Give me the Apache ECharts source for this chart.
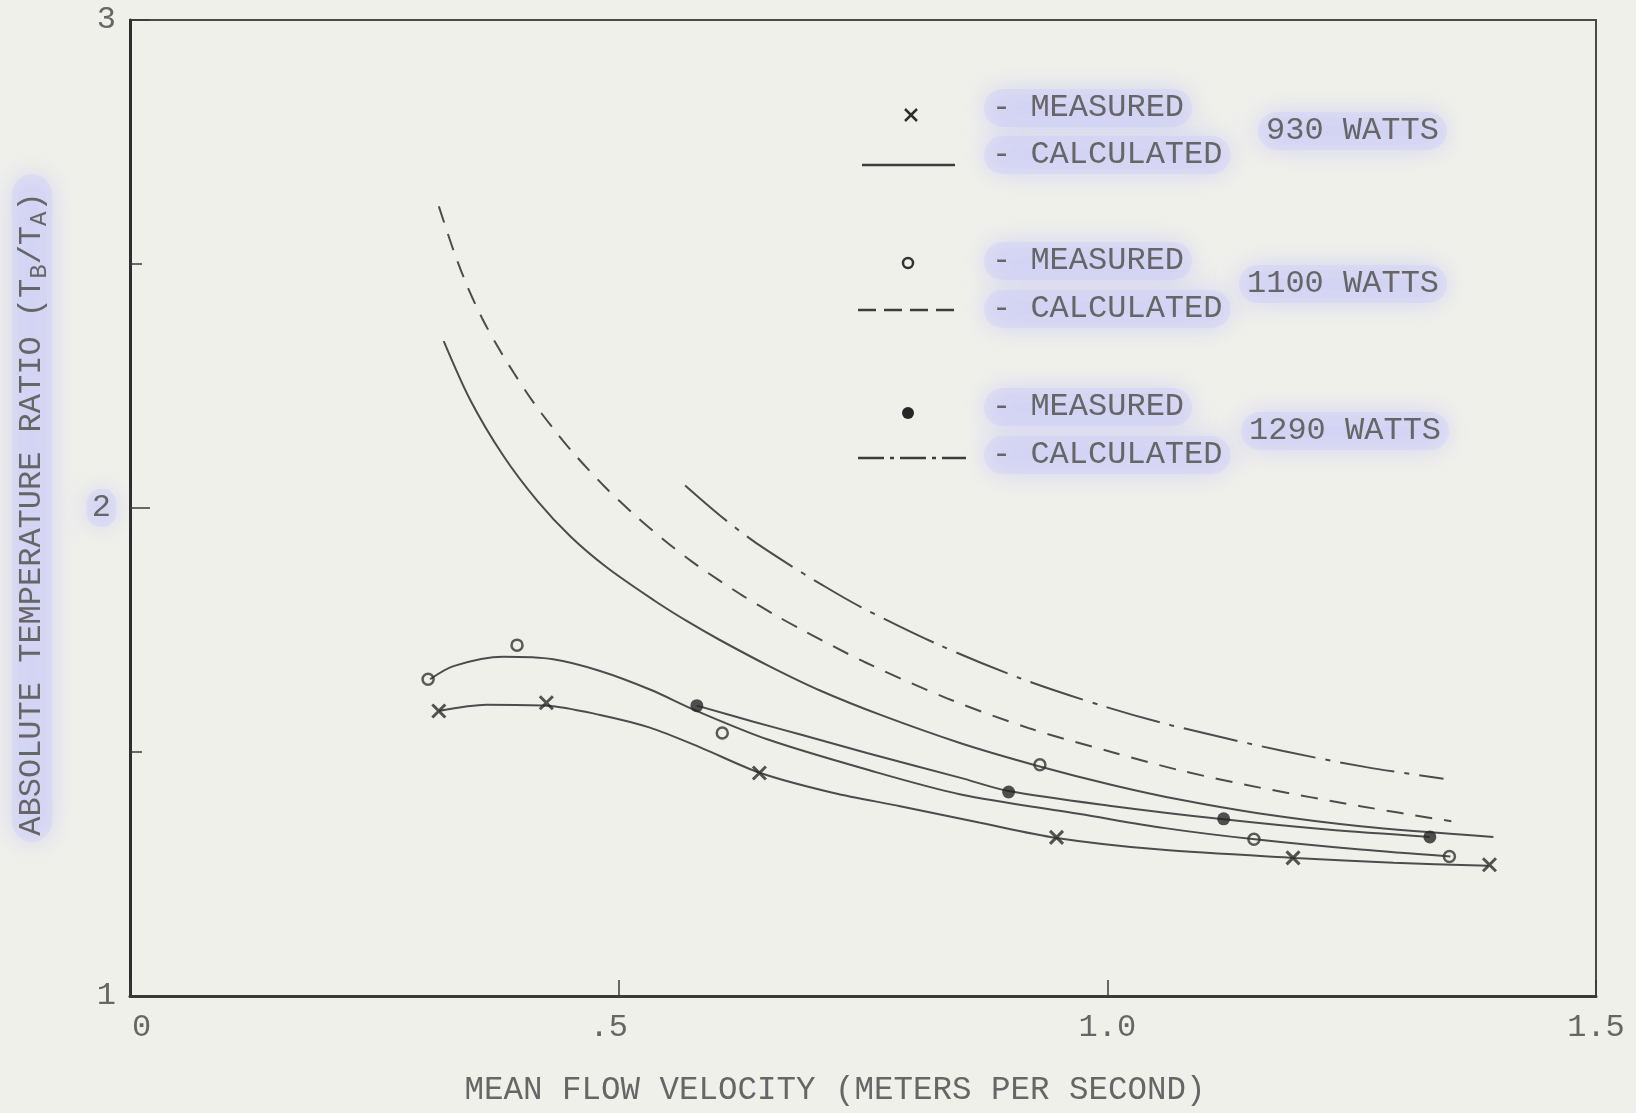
<!DOCTYPE html>
<html>
<head>
<meta charset="utf-8">
<script src="https://cdn.jsdelivr.net/npm/echarts@6/dist/echarts.min.js"></script>
<style>
html,body{margin:0;padding:0;background:#f0f0eb;}
#c{width:1636px;height:1113px;}
</style>
</head>
<body>
<div id="c"></div>
<script>
// ---- tick labels ----
const xTickLabels = {0: '0', 0.5: '.5', 1: '1.0', 1.5: '1.5'};
const yTickLabels = {1: '1', 2: '2', 3: '3'};

// ---- measured points [velocity, ratio] ----
const measured930 = [[0.316,1.584],[0.426,1.601],[0.644,1.457],[0.948,1.325],[1.190,1.283],[1.391,1.269]];
const measured1100 = [[0.305,1.649],[0.396,1.719],[0.606,1.539],[0.931,1.474],[1.150,1.321],[1.350,1.286]];
const measured1290 = [[0.580,1.595],[0.899,1.418],[1.119,1.363],[1.330,1.326]];

// ---- curves faired through measured points ----
const fit930 = [[0.316,1.584],[0.365,1.597],[0.427,1.595],[0.481,1.576],[0.532,1.550],[0.584,1.509],[0.645,1.457],[0.720,1.416],[0.788,1.389],[0.870,1.355],[0.948,1.324],[1.054,1.300],[1.192,1.283],[1.293,1.273],[1.390,1.267]];
const fit1100 = [[0.307,1.649],[0.331,1.676],[0.382,1.695],[0.433,1.690],[0.481,1.666],[0.532,1.628],[0.580,1.584],[0.652,1.526],[0.754,1.464],[0.850,1.413],[0.972,1.373],[1.059,1.344],[1.151,1.321],[1.259,1.300],[1.351,1.286]];
const fit1290 = [[0.580,1.595],[0.638,1.562],[0.686,1.536],[0.754,1.498],[0.850,1.447],[0.899,1.420],[1.006,1.389],[1.119,1.362],[1.225,1.341],[1.330,1.326]];

// ---- calculated curves ----
const calc930 = [[0.321,2.342],[0.348,2.222],[0.382,2.107],[0.417,2.014],[0.451,1.941],[0.488,1.878],[0.536,1.811],[0.570,1.768],[0.604,1.729],[0.655,1.675],[0.706,1.626],[0.768,1.576],[0.850,1.518],[0.928,1.472],[1.006,1.432],[1.075,1.402],[1.156,1.374],[1.259,1.348],[1.395,1.326]];
const calc1100 = [[0.316,2.618],[0.331,2.528],[0.345,2.455],[0.360,2.390],[0.375,2.335],[0.393,2.276],[0.413,2.216],[0.433,2.163],[0.454,2.112],[0.486,2.043],[0.519,1.981],[0.546,1.935],[0.575,1.890],[0.604,1.850],[0.628,1.819],[0.659,1.782],[0.686,1.752],[0.751,1.685],[0.836,1.610],[0.921,1.548],[1.006,1.499],[1.075,1.462],[1.156,1.427],[1.259,1.389],[1.352,1.358]];
const calc1290 = [[0.568,2.046],[0.604,1.984],[0.638,1.932],[0.672,1.887],[0.706,1.845],[0.747,1.798],[0.826,1.721],[0.911,1.651],[0.996,1.594],[1.065,1.555],[1.180,1.502],[1.265,1.469],[1.344,1.445]];

// ---- legend texts ----
const wattLabels = ['930 WATTS', '1100 WATTS', '1290 WATTS'];
const measuredLabel = '- MEASURED';
const calculatedLabel = '- CALCULATED';

const FONT = '"Liberation Mono", "Courier New", monospace';
const INK = '#666666';
const LINE = '#4c4c4c';
const BG = '#f0f0eb';
const HALO_BG = 'rgba(206,206,250,0.40)';
const HALO_SH = 'rgba(160,160,255,0.85)';

function haloText(x, y, text) {
  return {
    type: 'text', x: x - 8, y: y, silent: true, z: 10,
    style: {
      text: text, font: '32px ' + FONT, fill: INK,
      align: 'left', verticalAlign: 'middle',
      backgroundColor: HALO_BG, padding: [3, 8],
      borderRadius: 20, shadowBlur: 26, shadowColor: HALO_SH
    }
  };
}
function legendLine(x1, x2, y, dash) {
  return {
    type: 'line', silent: true, z: 10,
    shape: {x1: x1, y1: y, x2: x2, y2: y},
    style: {stroke: '#3c3c3c', lineWidth: 2.5, lineDash: dash}
  };
}

const graphics = [
  // 930 W
  {type: 'line', silent: true, shape: {x1: 905, y1: 109, x2: 917, y2: 121}, style: {stroke: '#2f2f2f', lineWidth: 2.5}},
  {type: 'line', silent: true, shape: {x1: 917, y1: 109, x2: 905, y2: 121}, style: {stroke: '#2f2f2f', lineWidth: 2.5}},
  haloText(992, 108, measuredLabel),
  legendLine(862, 955, 165, null),
  haloText(992, 155, calculatedLabel),
  haloText(1266, 131, wattLabels[0]),
  // 1100 W
  {type: 'circle', silent: true, shape: {cx: 908, cy: 263, r: 5}, style: {fill: 'none', stroke: '#333', lineWidth: 2.5}},
  haloText(992, 261, measuredLabel),
  legendLine(858, 955, 310, [18, 8]),
  haloText(992, 309, calculatedLabel),
  haloText(1247, 284, wattLabels[1]),
  // 1290 W
  {type: 'circle', silent: true, shape: {cx: 908, cy: 413, r: 6}, style: {fill: '#262626'}},
  haloText(992, 407, measuredLabel),
  legendLine(858, 966, 458, [26, 6, 4, 6]),
  haloText(992, 455, calculatedLabel),
  haloText(1249, 431, wattLabels[2])
];

const chart = echarts.init(document.getElementById('c'), null, {renderer: 'canvas'});

function lineSeries(name, data, type) {
  return {
    name: name, type: 'line', data: data, smooth: 0.3,
    showSymbol: false, silent: true,
    lineStyle: {color: LINE, width: 2, type: type}, z: 2
  };
}

chart.setOption({
  backgroundColor: BG,
  animation: false,
  textStyle: {fontFamily: FONT},
  grid: {left: 130, right: 40, top: 20, bottom: 117, outerBoundsMode: 'none', containLabel: false,
         show: true, borderColor: '#4a4a4a', borderWidth: 2, backgroundColor: 'transparent'},
  xAxis: {
    type: 'value', min: 0, max: 1.5, interval: 0.5,
    axisLine: {show: true, onZero: false, lineStyle: {color: '#3a3a3a', width: 3}},
    axisTick: {show: true, inside: true, length: 16, lineStyle: {color: '#3a3a3a', width: 1.5}},
    splitLine: {show: false},
    axisLabel: {
      margin: 16, fontFamily: FONT, fontSize: 32, color: INK,
      formatter: function (v) {
        const t = xTickLabels[v];
        if (v === 0) return '{z|' + t + '}';
        if (v === 0.5) return '{h|' + t + '}';
        return t;
      },
      rich: {
        z: {fontFamily: FONT, fontSize: 32, color: INK, padding: [0, 0, 0, 23]},
        h: {fontFamily: FONT, fontSize: 32, color: INK, padding: [0, 20, 0, 0]}
      }
    },
    name: 'MEAN FLOW VELOCITY (METERS PER SECOND)',
    nameLocation: 'middle', nameGap: 78,
    nameTextStyle: {fontFamily: FONT, fontSize: 32.5, color: INK, padding: [0, 56, 0, 0]}
  },
  yAxis: {
    type: 'value', min: 1, max: 3, interval: 1,
    axisLine: {show: true, onZero: false, lineStyle: {color: '#2e2e2e', width: 3}},
    axisTick: {show: true, inside: true, length: 20, lineStyle: {color: '#3a3a3a', width: 1.5}},
    minorTick: {show: true, splitNumber: 2, length: 12, lineStyle: {color: '#3a3a3a', width: 1.5}},
    splitLine: {show: false},
    minorSplitLine: {show: false},
    axisLabel: {
      margin: 14, fontFamily: FONT, fontSize: 32, color: INK,
      formatter: function (v) {
        const t = yTickLabels[v];
        return v === 2 ? '{h|' + t + '}' : t;
      },
      rich: {
        h: {fontFamily: FONT, fontSize: 32, color: INK, backgroundColor: HALO_BG, borderRadius: 14,
            shadowBlur: 22, shadowColor: HALO_SH, padding: [3, 5]}
      }
    },
    name: 'ABSOLUTE TEMPERATURE RATIO (T{s|B}/T{s|A})',
    nameLocation: 'middle', nameRotate: 90, nameGap: 78,
    nameTextStyle: {
      fontFamily: FONT, fontSize: 32, color: INK, lineHeight: 40,
      backgroundColor: HALO_BG, borderRadius: 20, shadowBlur: 26, shadowColor: HALO_SH,
      padding: [0, 18, 0, 6],
      rich: {s: {fontFamily: FONT, fontSize: 24, color: INK, verticalAlign: 'bottom'}}
    }
  },
  graphic: graphics,
  series: [
    lineSeries('930 W calculated', calc930, 'solid'),
    lineSeries('1100 W calculated', calc1100, [17, 12]),
    lineSeries('1290 W calculated', calc1290, [55, 10, 5, 10]),
    lineSeries('930 W measured fit', fit930, 'solid'),
    lineSeries('1100 W measured fit', fit1100, 'solid'),
    lineSeries('1290 W measured fit', fit1290, 'solid'),
    {
      name: '930 W measured', type: 'scatter', data: measured930, z: 5, silent: true,
      symbol: 'path://M0,0L10,10M10,0L0,10', symbolSize: 13,
      itemStyle: {color: 'transparent', borderColor: '#2a2a2a', borderWidth: 3}
    },
    {
      name: '1100 W measured', type: 'scatter', data: measured1100, z: 5, silent: true,
      symbol: 'circle', symbolSize: 11,
      itemStyle: {color: 'rgba(0,0,0,0)', borderColor: '#333', borderWidth: 2.5}
    },
    {
      name: '1290 W measured', type: 'scatter', data: measured1290, z: 5, silent: true,
      symbol: 'circle', symbolSize: 13,
      itemStyle: {color: '#262626'}
    }
  ]
});
</script>
</body>
</html>
